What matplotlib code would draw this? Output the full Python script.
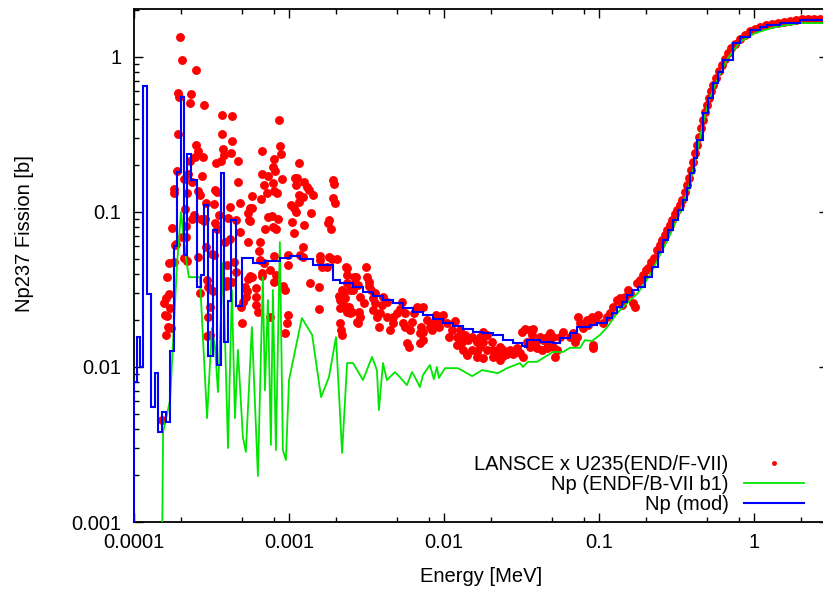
import numpy as np
import matplotlib
matplotlib.use("Agg")
import matplotlib.pyplot as plt
from matplotlib.ticker import LogLocator, FuncFormatter, NullFormatter

plt.rcParams['font.family'] = ['Liberation Sans', 'DejaVu Sans']
plt.rcParams['font.size'] = 14.5

# LANSCE ratio data x U235 (ENDF/B-VII), energy [MeV] / cross section [b]
lansce_e = [
    1.98e-4, 2.04e-4, 2.51e-4, 1.92e-4, 1.95e-4, 2.33e-4, 2.30e-4, 2.83e-4, 3.69e-4, 4.28e-4,
    8.60e-4, 1.92e-4, 3.69e-4, 4.28e-4, 3.75e-4, 2.51e-4, 2.59e-4, 8.73e-4, 6.68e-4, 2.79e-4,
    3.80e-4, 4.22e-4, 8.86e-4, 3.38e-4, 3.64e-4, 4.68e-4, 2.30e-4, 2.47e-4, 7.99e-4, 1.16e-3,
    6.68e-4, 7.31e-4, 8.11e-4, 8.99e-4, 4.68e-4, 1.13e-3, 6.89e-4, 3.33e-4, 7.87e-4, 7.99e-4,
    1.11e-3, 5.76e-4, 7.20e-4, 8.35e-4, 6.59e-4, 1.16e-3, 4.82e-4, 1.03e-3, 4.16e-4, 1.08e-3,
    5.76e-4, 1.11e-3, 3.28e-4, 5.43e-4, 7.31e-4, 8.48e-4, 5.59e-4, 1.05e-3, 2.87e-4, 6.99e-4,
    8.23e-4, 1.08e-3, 1.76e-4, 1.25e-3, 5.43e-4, 6.49e-4, 9.83e-4, 1.23e-3, 1.23e-3, 6.39e-4,
    6.49e-4, 1.68e-4, 1.63e-4, 5.59e-4, 6.68e-4, 8.23e-4, 9.83e-4, 1.89e-4, 2.23e-4, 2.74e-4,
    2.10e-4, 2.37e-4, 1.81e-4, 1.81e-4, 2.20e-4, 2.59e-4, 3.43e-4, 2.66e-4, 2.91e-4, 2.13e-4,
    5.59e-4, 2.44e-4, 3.53e-4, 2.37e-4, 2.70e-4, 2.83e-4, 3.33e-4, 4.04e-4, 4.54e-4, 5.51e-4,
    2.16e-4, 3.43e-4, 4.82e-4, 2.04e-4, 2.16e-4, 3.86e-4, 1.87e-4, 2.91e-4, 3.18e-4, 3.28e-4,
    2.59e-4, 2.10e-4, 1.81e-4, 3.98e-4, 4.41e-4, 3.98e-4, 4.54e-4, 2.66e-4, 3.00e-4, 3.09e-4,
    3.23e-4, 3.92e-4, 5.19e-4, 5.35e-4, 1.68e-4, 1.61e-4, 1.71e-4, 5.27e-4, 5.04e-4, 4.89e-4,
    3.09e-4, 1.63e-4, 3.00e-4, 4.97e-4, 1.66e-4, 1.73e-4, 1.61e-4, 2.96e-4, 3.09e-4, 1.84e-4,
    1.56e-4, 1.59e-4, 1.52e-4, 2.20e-4, 2.96e-4, 4.16e-4, 4.28e-4, 5.43e-4, 5.76e-4, 6.12e-4,
    6.12e-4, 6.12e-4, 6.30e-4, 6.68e-4, 6.89e-4, 7.53e-4, 7.53e-4, 7.99e-4, 9.13e-4, 9.40e-4,
    9.83e-4, 9.40e-4, 7.99e-4, 1.09e-3, 1.25e-3, 1.31e-3, 1.16e-3, 1.39e-3, 1.35e-3, 1.92e-3,
    1.95e-3, 1.92e-3, 1.98e-3, 1.43e-3, 1.23e-3, 1.81e-3, 1.78e-3, 1.87e-3, 1.59e-3, 1.59e-3,
    1.37e-3, 1.56e-3, 1.89e-3, 2.04e-3, 1.63e-3, 1.76e-3, 2.37e-3, 2.37e-3, 2.37e-3, 2.20e-3,
    2.47e-3, 2.70e-3, 2.79e-3, 2.10e-3, 2.20e-3, 2.30e-3, 7.87e-4, 7.75e-4, 7.87e-4, 9.69e-4,
    1.18e-3, 1.81e-3, 2.13e-3, 2.13e-3, 2.37e-3, 2.55e-3, 2.13e-3, 2.16e-3, 2.20e-3, 2.74e-3,
    1.56e-3, 2.33e-3, 2.26e-3, 2.62e-3, 2.66e-3, 2.59e-3, 3.14e-3, 3.18e-3, 3.28e-3, 3.28e-3,
    3.38e-3, 2.87e-3, 3.04e-3, 2.83e-3, 2.87e-3, 2.79e-3, 2.44e-3, 2.47e-3, 2.30e-3, 3.48e-3,
    3.58e-3, 3.48e-3, 3.98e-3, 3.86e-3, 3.69e-3, 3.80e-3, 4.28e-3, 4.48e-3, 4.68e-3, 4.97e-3,
    5.19e-3, 5.43e-3, 5.59e-3, 6.03e-3, 5.76e-3, 5.94e-3, 6.21e-3, 6.68e-3, 6.39e-3, 7.09e-3,
    7.31e-3, 7.31e-3, 6.99e-3, 7.75e-3, 8.11e-3, 8.35e-3, 6.99e-3, 7.31e-3, 8.86e-3, 9.83e-3,
    9.40e-3, 8.60e-3, 9.27e-3, 1.05e-2, 1.08e-2, 1.13e-2, 1.18e-2, 1.27e-2, 1.21e-2, 1.31e-2,
    1.37e-2, 1.43e-2, 1.52e-2, 1.63e-2, 1.71e-2, 1.78e-2, 1.78e-2, 1.89e-2, 2.04e-2, 2.07e-2,
    2.20e-2, 2.30e-2, 2.40e-2, 2.55e-2, 2.66e-2, 2.79e-2, 1.63e-2, 1.71e-2, 1.89e-2, 1.21e-2,
    1.33e-2, 1.41e-2, 1.52e-2, 2.07e-2, 2.20e-2, 2.30e-2, 2.40e-2, 2.30e-2, 2.96e-2, 3.09e-2,
    3.23e-2, 3.18e-2, 3.33e-2, 3.58e-2, 3.75e-2, 3.69e-2, 3.43e-2, 3.58e-2, 3.86e-2, 3.98e-2,
    4.16e-2, 4.35e-2, 4.61e-2, 4.68e-2, 4.28e-2, 4.61e-2, 5.04e-2, 5.35e-2, 5.19e-2, 4.82e-2,
    5.04e-2, 5.59e-2, 5.85e-2, 6.49e-2, 6.78e-2, 7.31e-2, 7.53e-2, 7.87e-2, 8.35e-2, 8.48e-2,
    8.99e-2, 9.40e-2, 9.83e-2, 9.13e-2, 9.13e-2, 6.99e-2, 7.20e-2, 0.106, 0.113, 0.118,
    0.123, 0.131, 0.137, 0.141, 0.147, 0.154, 0.159, 0.166, 0.171, 0.176,
    5.59e-3, 5.35e-3, 4.68e-3, 4.28e-3, 4.04e-3, 3.58e-3, 1.63e-2, 1.78e-2, 0.184, 0.192,
    0.201, 0.207, 0.216, 0.226, 0.237, 0.247, 0.255, 0.266, 0.274, 0.287,
    0.296, 0.309, 0.318, 0.333, 0.343, 0.358, 0.369, 0.380, 0.392, 0.404,
    0.416, 0.428, 0.441, 0.454, 0.468, 0.482, 0.497, 0.512, 0.527, 0.543,
    0.568, 0.594, 0.621, 0.649, 0.678, 0.709, 0.753, 0.811, 0.873, 0.940,
    1.015, 1.093, 1.195, 1.306, 1.428, 1.561, 1.707, 1.865, 2.039, 2.229,
    2.436, 2.663, 2.912,
]
lansce_xs = [
    1.35, 0.95, 0.82, 0.585, 0.551, 0.576, 0.504, 0.489, 0.422, 0.416,
    0.392, 0.318, 0.318, 0.287, 0.255, 0.270, 0.247, 0.266, 0.247, 0.226,
    0.233, 0.240, 0.237, 0.207, 0.213, 0.213, 0.213, 0.226, 0.220, 0.207,
    0.176, 0.171, 0.184, 0.163, 0.156, 0.166, 0.149, 0.139, 0.154, 0.137,
    0.149, 0.127, 0.133, 0.133, 0.121, 0.129, 0.114, 0.111, 0.108, 0.106,
    0.106, 0.100, 0.113, 0.0983, 0.0927, 0.0899, 0.0873, 0.0860, 0.0899, 0.0775,
    0.0775, 0.0731, 0.0787, 0.0823, 0.0639, 0.0639, 0.0454, 0.0512, 0.0594, 0.0559,
    0.0489, 0.0468, 0.0380, 0.0386, 0.0386, 0.0392, 0.0527, 0.184, 0.176, 0.171,
    0.163, 0.156, 0.141, 0.133, 0.133, 0.137, 0.135, 0.129, 0.114, 0.105,
    0.106, 0.0955, 0.0955, 0.0899, 0.0899, 0.0873, 0.0848, 0.0913, 0.0886, 0.0886,
    0.0811, 0.0775, 0.0742, 0.0689, 0.0689, 0.0639, 0.0621, 0.0594, 0.0535, 0.0527,
    0.0512, 0.0504, 0.0475, 0.0454, 0.0475, 0.0358, 0.0410, 0.0300, 0.0328, 0.0318,
    0.0309, 0.0333, 0.0328, 0.0309, 0.0296, 0.0279, 0.0240, 0.0283, 0.0262, 0.0244,
    0.0244, 0.0213, 0.0210, 0.0192, 0.0181, 0.0178, 0.0161, 0.0159, 0.0161, 0.0612,
    0.0259, 0.0216, 0.00454, 0.0482, 0.0364, 0.0668, 0.0353, 0.0369, 0.0380, 0.0323,
    0.0283, 0.0251, 0.0226, 0.0404, 0.0468, 0.0210, 0.0422, 0.0353, 0.0333, 0.0314,
    0.0216, 0.0166, 0.0519, 0.166, 0.156, 0.145, 0.116, 0.0983, 0.139, 0.161,
    0.152, 0.123, 0.114, 0.129, 0.125, 0.0886, 0.0848, 0.0775, 0.0519, 0.0489,
    0.0348, 0.0328, 0.0497, 0.0497, 0.0441, 0.0441, 0.0435, 0.0392, 0.0348, 0.0314,
    0.0314, 0.0380, 0.0338, 0.0287, 0.0279, 0.0279, 0.195, 0.0940, 0.0799, 0.0192,
    0.0527, 0.0512, 0.0270, 0.0240, 0.0226, 0.0226, 0.0192, 0.0173, 0.0161, 0.0195,
    0.0237, 0.0441, 0.0304, 0.0380, 0.0348, 0.0314, 0.0441, 0.0380, 0.0353, 0.0333,
    0.0314, 0.0283, 0.0259, 0.0226, 0.0210, 0.0192, 0.0244, 0.0223, 0.0247, 0.0279,
    0.0259, 0.0233, 0.0251, 0.0223, 0.0210, 0.0181, 0.0210, 0.0173, 0.0192, 0.0223,
    0.0237, 0.0192, 0.0181, 0.0173, 0.0143, 0.0135, 0.0195, 0.0244, 0.0223, 0.0181,
    0.0244, 0.0168, 0.0166, 0.0201, 0.0181, 0.0173, 0.0143, 0.0149, 0.0216, 0.0216,
    0.0201, 0.0192, 0.0181, 0.0192, 0.0156, 0.0173, 0.0198, 0.0173, 0.0156, 0.0145,
    0.0161, 0.0149, 0.0156, 0.0145, 0.0156, 0.0145, 0.0168, 0.0161, 0.0145, 0.0129,
    0.0123, 0.0135, 0.0129, 0.0121, 0.0129, 0.0121, 0.0125, 0.0135, 0.0129, 0.0139,
    0.0129, 0.0120, 0.0129, 0.0116, 0.0118, 0.0114, 0.0118, 0.0111, 0.0133, 0.0123,
    0.0116, 0.0168, 0.0176, 0.0173, 0.0176, 0.0161, 0.0145, 0.0135, 0.0143, 0.0133,
    0.0156, 0.0149, 0.0156, 0.0139, 0.0129, 0.0133, 0.0135, 0.0129, 0.0116, 0.0166,
    0.0156, 0.0156, 0.0168, 0.0156, 0.0166, 0.0210, 0.0192, 0.0178, 0.0201, 0.0187,
    0.0210, 0.0201, 0.0216, 0.0139, 0.0133, 0.0145, 0.0156, 0.0192, 0.0210, 0.0223,
    0.0244, 0.0270, 0.0279, 0.0251, 0.0283, 0.0314, 0.0300, 0.0259, 0.0244, 0.0348,
    0.0223, 0.0262, 0.0210, 0.0262, 0.0283, 0.0300, 0.0116, 0.0114, 0.0364, 0.0392,
    0.0422, 0.0435, 0.0475, 0.0504, 0.0568, 0.0612, 0.0659, 0.0709, 0.0764, 0.0823,
    0.0886, 0.0969, 0.103, 0.111, 0.120, 0.135, 0.149, 0.166, 0.187, 0.210,
    0.240, 0.270, 0.304, 0.348, 0.392, 0.441, 0.489, 0.543, 0.603, 0.659,
    0.731, 0.811, 0.886, 0.969, 1.061, 1.143, 1.213, 1.306, 1.386, 1.471,
    1.515, 1.561, 1.608, 1.632, 1.657, 1.681, 1.707, 1.732, 1.758, 1.758,
    1.758, 1.758, 1.758,
]

# ENDF/B-VII b1 evaluation
endf_e = [
    1.52e-4, 1.54e-4, 1.71e-4, 1.89e-4, 2.01e-4, 2.16e-4, 2.26e-4, 2.66e-4, 2.96e-4, 3.18e-4,
    3.33e-4, 3.48e-4, 3.75e-4, 4.04e-4, 4.28e-4, 4.48e-4, 4.68e-4, 5.04e-4, 5.27e-4, 5.76e-4,
    6.30e-4, 6.78e-4, 6.99e-4, 7.31e-4, 7.64e-4, 7.87e-4, 8.23e-4, 8.73e-4, 9.13e-4, 9.55e-4,
    1.00e-3, 1.21e-3, 1.41e-3, 1.61e-3, 1.81e-3, 2.01e-3, 2.20e-3, 2.37e-3, 2.59e-3, 3.00e-3,
    3.43e-3, 3.69e-3, 3.80e-3, 4.04e-3, 4.28e-3, 4.82e-3, 5.19e-3, 5.76e-3, 6.21e-3, 6.49e-3,
    6.99e-3, 7.31e-3, 8.11e-3, 8.60e-3, 8.99e-3, 9.27e-3, 1.015e-2, 1.23e-2, 1.52e-2, 1.76e-2,
    2.23e-2, 2.55e-2, 3.09e-2, 3.23e-2, 3.48e-2, 3.98e-2, 5.04e-2, 5.85e-2, 6.49e-2, 7.53e-2,
    8.11e-2, 8.99e-2, 0.1015, 0.113, 0.131, 0.152, 0.178, 0.213, 0.247, 0.287,
    0.333, 0.375, 0.416, 0.461, 0.512, 0.585, 0.678, 0.811, 1.015, 1.366,
    1.979, 3.0,
]
endf_xs = [
    0.0008, 0.0038, 0.00612, 0.0441, 0.100, 0.0512, 0.0380, 0.0380, 0.00468, 0.0178,
    0.0135, 0.00689, 0.0468, 0.0030, 0.0314, 0.00468, 0.0129, 0.00353, 0.00283, 0.0181,
    0.00198, 0.0380, 0.00709, 0.0270, 0.00314, 0.0314, 0.00291, 0.0639, 0.00291, 0.00251,
    0.00823, 0.0207, 0.0161, 0.00639, 0.0086, 0.0156, 0.00279, 0.0106, 0.0106, 0.00823,
    0.0116, 0.00955, 0.00527, 0.0106, 0.00823, 0.00927, 0.0086, 0.00764, 0.00927, 0.0086,
    0.00742, 0.00886, 0.0103, 0.00835, 0.0100, 0.0085, 0.00983, 0.00983, 0.00873, 0.00955,
    0.00913, 0.00983, 0.0106, 0.0100, 0.0108, 0.0108, 0.0125, 0.0125, 0.0133, 0.0133,
    0.0149, 0.0147, 0.0161, 0.0181, 0.0223, 0.0259, 0.0300, 0.0392, 0.0527, 0.0709,
    0.100, 0.139, 0.210, 0.348, 0.527, 0.731, 0.985, 1.249, 1.428, 1.561,
    1.657, 1.657,
]

# modified evaluation, group-wise: group edges and group values
mod_edges = [
    1.0e-4, 1.045e-4, 1.09e-4, 1.14e-4, 1.21e-4, 1.29e-4, 1.37e-4, 1.43e-4, 1.52e-4, 1.61e-4,
    1.71e-4, 1.81e-4, 1.89e-4, 2.01e-4, 2.10e-4, 2.20e-4, 2.33e-4, 2.55e-4, 2.71e-4, 2.83e-4,
    3.00e-4, 3.23e-4, 3.43e-4, 3.64e-4, 3.81e-4, 4.04e-4, 4.23e-4, 4.55e-4, 4.97e-4, 5.85e-4,
    6.99e-4, 8.73e-4, 1.015e-3, 1.18e-3, 1.43e-3, 1.92e-3, 2.13e-3, 2.59e-3, 3.00e-3, 3.48e-3,
    4.04e-3, 4.68e-3, 5.43e-3, 6.30e-3, 7.31e-3, 8.48e-3, 9.83e-3, 1.14e-2, 1.33e-2, 1.54e-2,
    1.78e-2, 2.07e-2, 2.40e-2, 2.79e-2, 3.18e-2, 3.33e-2, 3.43e-2, 4.16e-2, 5.04e-2, 5.59e-2,
    6.49e-2, 7.20e-2, 8.73e-2, 9.69e-2, 0.113, 0.121, 0.131, 0.141, 0.152, 0.163,
    0.178, 0.198, 0.220, 0.240, 0.259, 0.279, 0.300, 0.323, 0.348, 0.369,
    0.386, 0.410, 0.428, 0.468, 0.504, 0.543, 0.585, 0.630, 0.731, 0.811,
    0.940, 1.093, 1.213, 1.471, 1.979, 3.0,
]
mod_xs = [
    0.0080, 0.0156, 0.0100, 0.650, 0.0296, 0.0055, 0.0091, 0.0038, 0.0051, 0.0044,
    0.0127, 0.060, 0.181, 0.552, 0.053, 0.237, 0.161, 0.0328, 0.0392, 0.111,
    0.0118, 0.0765, 0.0103, 0.179, 0.0145, 0.0267, 0.0888, 0.0248, 0.0504, 0.0468,
    0.0482, 0.0504, 0.0519, 0.0497, 0.0454, 0.0364, 0.0348, 0.0328, 0.0304, 0.0287,
    0.0270, 0.0259, 0.0240, 0.0226, 0.0216, 0.0204, 0.0192, 0.0184, 0.0176, 0.0168,
    0.0166, 0.0161, 0.0149, 0.0143, 0.0137, 0.0135, 0.0149, 0.0145, 0.0143, 0.0154,
    0.0166, 0.0181, 0.0187, 0.0192, 0.0207, 0.0223, 0.0244, 0.0262, 0.0291, 0.0314,
    0.0328, 0.0380, 0.0441, 0.0551, 0.0659, 0.0764, 0.0886, 0.103, 0.120, 0.143,
    0.178, 0.223, 0.291, 0.435, 0.543, 0.678, 0.799, 0.955, 1.231, 1.346,
    1.493, 1.561, 1.608, 1.657, 1.732,
]

W, H = 823, 592
fig = plt.figure(figsize=(W / 100, H / 100), dpi=100)
# axes box in pixels: left 134, right 828 (just past the image edge), top 9, bottom 522
ax = fig.add_axes([134 / W, (H - 522) / H, (828 - 134) / W, (522 - 9) / H])

ax.set_xscale('log')
ax.set_yscale('log')
ax.set_xlim(1e-4, 3.0)
ax.set_ylim(1e-3, 2.04)

ax.plot(lansce_e, lansce_xs, 'o', color='#ff0000', ms=6.4, mew=0,
        label='LANSCE x U235(END/F-VII)', zorder=2)
ax.plot(endf_e, endf_xs, '-', color='#00e600', lw=1.3,
        label='Np (ENDF/B-VII b1)', zorder=3)
ax.stairs(mod_xs, mod_edges, baseline=1e-3, fill=False, color='#0000ff', lw=1.5,
          label='Np (mod)', zorder=4)

fmt = FuncFormatter(lambda v, p: '%g' % v)
ax.xaxis.set_major_locator(LogLocator(base=10, numticks=12))
ax.xaxis.set_minor_locator(LogLocator(base=10, subs=(2, 5, 8), numticks=12))
ax.yaxis.set_major_locator(LogLocator(base=10, numticks=12))
ax.yaxis.set_minor_locator(LogLocator(base=10, subs=np.arange(2, 10), numticks=12))
ax.xaxis.set_major_formatter(fmt)
ax.yaxis.set_major_formatter(fmt)
ax.xaxis.set_minor_formatter(NullFormatter())
ax.yaxis.set_minor_formatter(NullFormatter())

ax.tick_params(which='both', direction='in', top=True, right=True, width=1.0, colors='black')
ax.tick_params(which='major', length=6.5)
ax.tick_params(which='minor', length=3.5)
ax.tick_params(axis='y', which='major', pad=9)
ax.tick_params(axis='x', which='major', pad=8)
for s in ax.spines.values():
    s.set_linewidth(1.3)

fig.text(25 / W, 1 - 234 / H, 'Np237 Fission [b]', rotation=90, ha='center', va='center')
fig.text(481 / W, 1 - 577 / H, 'Energy [MeV]', ha='center', va='center')

ax.legend(loc='lower right', bbox_to_anchor=(804 / W, (H - 514) / H),
          bbox_transform=fig.transFigure, frameon=False, markerfirst=False,
          numpoints=1, markerscale=0.55, handlelength=3.0, handletextpad=0.75,
          labelspacing=0.04, borderpad=0, borderaxespad=0)

fig.savefig('out.png', dpi=100)
